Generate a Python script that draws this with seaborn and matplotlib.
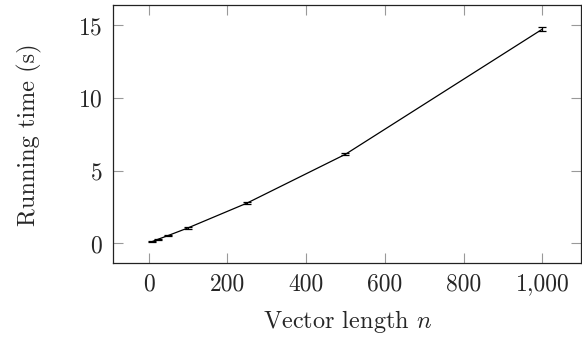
import matplotlib
matplotlib.use("Agg")
import matplotlib.pyplot as plt
from matplotlib.ticker import FuncFormatter
import seaborn as sns
import pandas as pd

vector_length = [10, 25, 50, 100, 250, 500, 1000]
running_time = [0.14, 0.30, 0.55, 1.07, 2.78, 6.14, 14.75]
time_err = [0.03, 0.03, 0.04, 0.04, 0.05, 0.07, 0.15]

x_ticks = [0, 200, 400, 600, 800, 1000]
y_ticks = [0, 5, 10, 15]

df = pd.DataFrame({"n": vector_length, "time": running_time, "err": time_err})

sns.set_theme(style="ticks")
plt.rcParams["font.family"] = ["serif"]
plt.rcParams["font.serif"] = ["cmr10"]
plt.rcParams["mathtext.fontset"] = "cm"
plt.rcParams["axes.formatter.use_mathtext"] = True
plt.rcParams["axes.unicode_minus"] = False

fig = plt.figure(figsize=(5.82, 3.39), dpi=100)
ax = fig.add_axes([0.195, 0.223, 0.804, 0.761])

sns.lineplot(data=df, x="n", y="time", ax=ax, color="black", linewidth=0.9)
ax.errorbar(df["n"], df["time"], yerr=df["err"], fmt="none",
            ecolor="black", elinewidth=0.9, capsize=3.2, capthick=0.9)

ax.set_xlim(-89, 1099)
ax.set_ylim(-1.37, 16.38)
ax.set_xticks(x_ticks)
ax.set_yticks(y_ticks)
ax.xaxis.set_major_formatter(FuncFormatter(lambda v, p: "{:,.0f}".format(v)))

ax.tick_params(direction="in", length=7, width=0.8, color="#999999",
               top=True, right=True, labelsize=17)
ax.tick_params(axis="x", pad=7)
ax.tick_params(axis="y", pad=8)
for s in ax.spines.values():
    s.set_visible(True)
    s.set_color("#222222")
    s.set_linewidth(0.9)

ax.set_xlabel("Vector length $n$", fontsize=17.5, labelpad=9)
ax.set_ylabel("Running time (s)", fontsize=17.5, labelpad=26)

fig.savefig("out.png", dpi=100)
